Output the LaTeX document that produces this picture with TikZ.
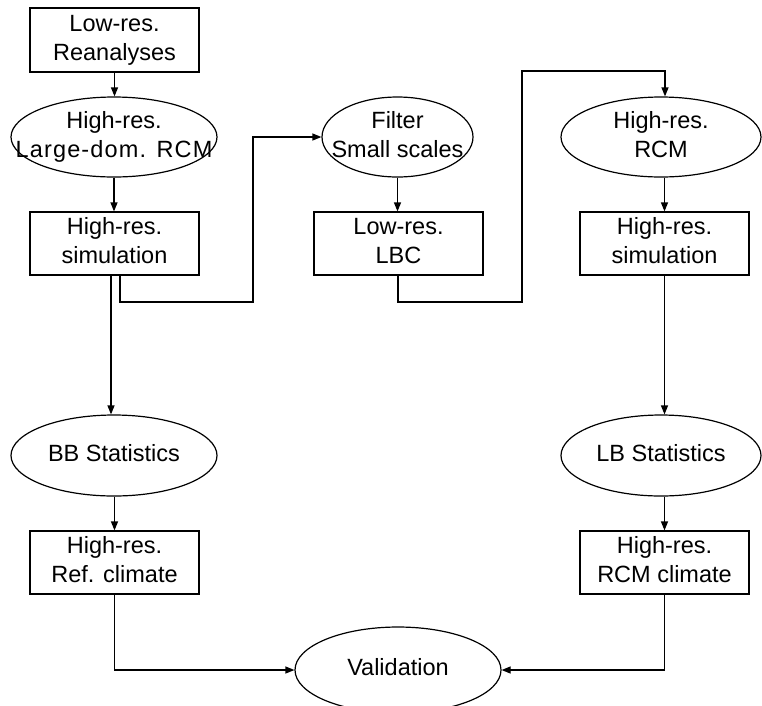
\documentclass[tikz,border=0pt]{standalone}
\usepackage{fontspec}
\setmainfont{Liberation Sans}
\usetikzlibrary{shapes.geometric,arrows.meta,calc}
\newcommand{\etext}[1]{\makebox[0pt]{\vbox to 0pt{\vss\hbox{\begin{tabular}{@{}c@{}}#1\end{tabular}}\vss}}}
\begin{document}
\begin{tikzpicture}[x=1pt,y=-1pt,
  every node/.style={font=\fontsize{23.5}{29}\selectfont, line width=1.2pt},
  boxnode/.style={draw, rectangle, inner sep=0pt, minimum width=169pt, minimum height=63pt},
  ellnode/.style={draw, ellipse, inner sep=0pt, minimum width=206pt, minimum height=80pt},
  conn/.style={line width=1.2pt, -{Triangle[length=9pt,width=7pt]}}]
\useasboundingbox (0,0) rectangle (762,705);
\clip (0,0) rectangle (762,705);
% left column
\node[boxnode, minimum height=64pt] (rean) at (114.5,40) {\etext{Low-res.\\Reanalyses}};
\node[ellnode] (lrcm) at (114,137) {\etext{High-res.\\{\addfontfeature{LetterSpace=5}Large-dom. RCM}}};
\node[boxnode] (sim1) at (114.5,243.5) {\etext{High-res.\\simulation}};
\node[ellnode, minimum height=81pt] (bb) at (114,455.5) {\etext{BB Statistics}};
\node[boxnode] (ref) at (114.5,562.5) {\etext{High-res.\\Ref. climate}};
% middle column
\node[ellnode, minimum width=151pt] (filt) at (397.5,137) {\etext{Filter\\Small scales}};
\node[boxnode] (lbc) at (398.5,243.5) {\etext{Low-res.\\LBC}};
\node[ellnode, minimum height=86pt] (val) at (398,670) {\etext{Validation}};
% right column
\node[ellnode, minimum width=200pt] (rcm) at (661,137) {\etext{High-res.\\RCM}};
\node[boxnode] (sim2) at (664.5,243.5) {\etext{High-res.\\simulation}};
\node[ellnode, minimum width=200pt, minimum height=81pt] (lb) at (661,455.5) {\etext{LB Statistics}};
\node[boxnode] (rcmc) at (664.5,562.5) {\etext{High-res.\\RCM climate}};
% junctions
\coordinate (j1) at (253,302);
\coordinate (j2) at (522,302);
\coordinate (j3) at (522,71);
% connectors
\draw[conn] (rean.south) -- (rean.south |- lrcm.north);
\draw[conn] (lrcm.south) -- (lrcm.south |- sim1.north);
\draw[conn] ([xshift=-3.5pt]sim1.south) -- ([xshift=-3.5pt]sim1.south |- bb.north);
\draw[conn] ([xshift=5.5pt]sim1.south) |- (j1) |- (filt.west);
\draw[conn] (ref.north |- bb.south) -- (ref.north);
\draw[conn] (ref.south) |- (val.west);
\draw[conn] (filt.south) -- (filt.south |- lbc.north);
\draw[conn] ([xshift=-0.5pt]lbc.south) |- (j2) -- (j3) -| ([xshift=4pt]rcm.north);
\draw[conn] (sim2.north |- rcm.south) -- (sim2.north);
\draw[conn] (sim2.south) -- (sim2.south |- lb.north);
\draw[conn] (rcmc.north |- lb.south) -- (rcmc.north);
\draw[conn] (rcmc.south) |- (val.east);
\end{tikzpicture}
\end{document}
